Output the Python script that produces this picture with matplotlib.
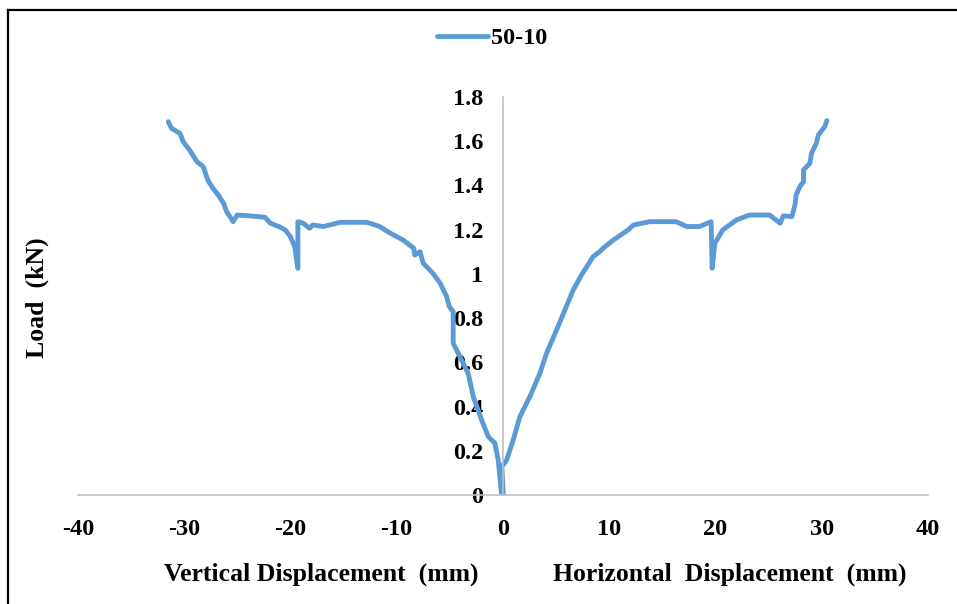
import matplotlib
matplotlib.use('Agg')
import matplotlib.pyplot as plt
from matplotlib.lines import Line2D

# ── Data ──────────────────────────────────────────────────────────────────────
vert_disp = [-31.5, -31.2, -30.4, -30.1, -29.5, -28.8, -28.2, -27.9, -27.7, -27.3,
             -26.8, -26.3, -26.0, -25.7, -25.4, -25.0, -23.8, -22.4, -21.9, -21.1,
             -20.5, -20.0, -19.6, -19.3, -19.3, -18.8, -18.2, -17.9, -16.9, -15.3,
             -12.8, -11.6, -10.6, -9.4, -8.4, -8.3, -7.8, -7.5, -6.6, -5.9,
             -5.3, -5.05, -4.68, -4.68, -4.05, -3.27, -2.79, -2.0, -1.38, -0.75,
             -0.44, -0.12]
vert_load = [1.688, 1.658, 1.636, 1.598, 1.560, 1.507, 1.485, 1.440, 1.417, 1.387,
             1.357, 1.319, 1.281, 1.259, 1.236, 1.266, 1.262, 1.256, 1.229, 1.214,
             1.199, 1.168, 1.123, 1.025, 1.236, 1.229, 1.206, 1.221, 1.214, 1.233,
             1.233, 1.214, 1.184, 1.153, 1.116, 1.085, 1.100, 1.048, 1.003, 0.957,
             0.897, 0.852, 0.829, 0.686, 0.626, 0.550, 0.445, 0.339, 0.264, 0.234,
             0.158, 0.0]

horz_disp = [0.0, 0.03, -0.1, 0.35, 0.97, 1.6, 2.54, 3.48, 4.11, 5.05,
             5.84, 6.62, 7.4, 8.5, 9.1, 9.44, 10.4, 11.8, 12.3, 13.8,
             16.3, 17.3, 18.5, 19.6, 19.7, 19.95, 20.7, 22.0, 23.2, 25.1,
             26.1, 26.4, 27.2, 27.5, 27.6, 27.95, 28.3, 28.3, 28.9, 29.05,
             29.5, 29.7, 30.3, 30.5]
horz_load = [0.0, 0.01, 0.128, 0.158, 0.249, 0.354, 0.445, 0.550, 0.641, 0.746,
             0.837, 0.927, 0.995, 1.078, 1.100, 1.116, 1.153, 1.199, 1.221, 1.236,
             1.236, 1.214, 1.214, 1.236, 1.025, 1.138, 1.199, 1.244, 1.266, 1.266,
             1.229, 1.262, 1.259, 1.312, 1.357, 1.394, 1.417, 1.470, 1.500, 1.545,
             1.590, 1.628, 1.666, 1.693]

series_name = '50-10'
x_ticks = [-40, -30, -20, -10, 0, 10, 20, 30, 40]
x_tick_labels = ['-40', '-30', '-20', '-10', '0', '10', '20', '30', '40']
y_ticks = [0, 0.2, 0.4, 0.6, 0.8, 1.0, 1.2, 1.4, 1.6, 1.8]
y_tick_labels = ['0', '0.2', '0.4', '0.6', '0.8', '1', '1.2', '1.4', '1.6', '1.8']

# ── Style ─────────────────────────────────────────────────────────────────────
plt.rcParams['font.family'] = ['Liberation Serif', 'DejaVu Serif']
plt.rcParams['font.weight'] = 'bold'
FS = 17.5      # tick / legend text
FS_T = 18.5    # axis titles
BLUE = '#5B9BD5'
GREY = '#BFBFBF'

fig = plt.figure(figsize=(9.57, 6.04), dpi=100)
ax = fig.add_axes([0.0815, 0.1805, 0.888, 0.659])

ax.plot(vert_disp + horz_disp, vert_load + horz_load, color=BLUE, lw=3.5,
        solid_joinstyle='round', solid_capstyle='round', label=series_name)

ax.set_xlim(-40, 40)
ax.set_ylim(0, 1.8)
ax.spines['left'].set_position(('data', 0))
for s in ['top', 'right']:
    ax.spines[s].set_visible(False)
for s in ['left', 'bottom']:
    ax.spines[s].set_color(GREY)
    ax.spines[s].set_linewidth(1.2)

ax.set_xticks(x_ticks)
ax.set_xticklabels(x_tick_labels, fontsize=FS, fontweight='bold')
ax.set_yticks(y_ticks)
ax.set_yticklabels(y_tick_labels, fontsize=FS, fontweight='bold')
ax.tick_params(axis='x', length=0, pad=17)
ax.tick_params(axis='y', length=0, pad=14)

# axis titles
fig.text(321/957, 1 - 574/604, 'Vertical Displacement  (mm)', ha='center', va='center',
         fontsize=FS_T, fontweight='bold')
fig.text(730/957, 1 - 574/604, 'Horizontal  Displacement  (mm)', ha='center', va='center',
         fontsize=FS_T, fontweight='bold')
fig.text(37/957, 1 - 298/604, 'Load  (kN)', ha='center', va='center', rotation=90,
         fontsize=FS_T, fontweight='bold')

# legend
leg = ax.legend(loc='center', bbox_to_anchor=(492/957, 1 - 38/604), bbox_transform=fig.transFigure,
                frameon=False, handlelength=2.1, handletextpad=0.1,
                prop={'weight': 'bold', 'size': FS})

# chart border (left and top)
fig.add_artist(Line2D([8/957, 8/957], [0, 1 - 10/604], color='black', lw=1.6,
                      transform=fig.transFigure))
fig.add_artist(Line2D([8/957, 1], [1 - 10/604, 1 - 10/604], color='black', lw=1.6,
                      transform=fig.transFigure))

fig.savefig('out.png', dpi=100)
